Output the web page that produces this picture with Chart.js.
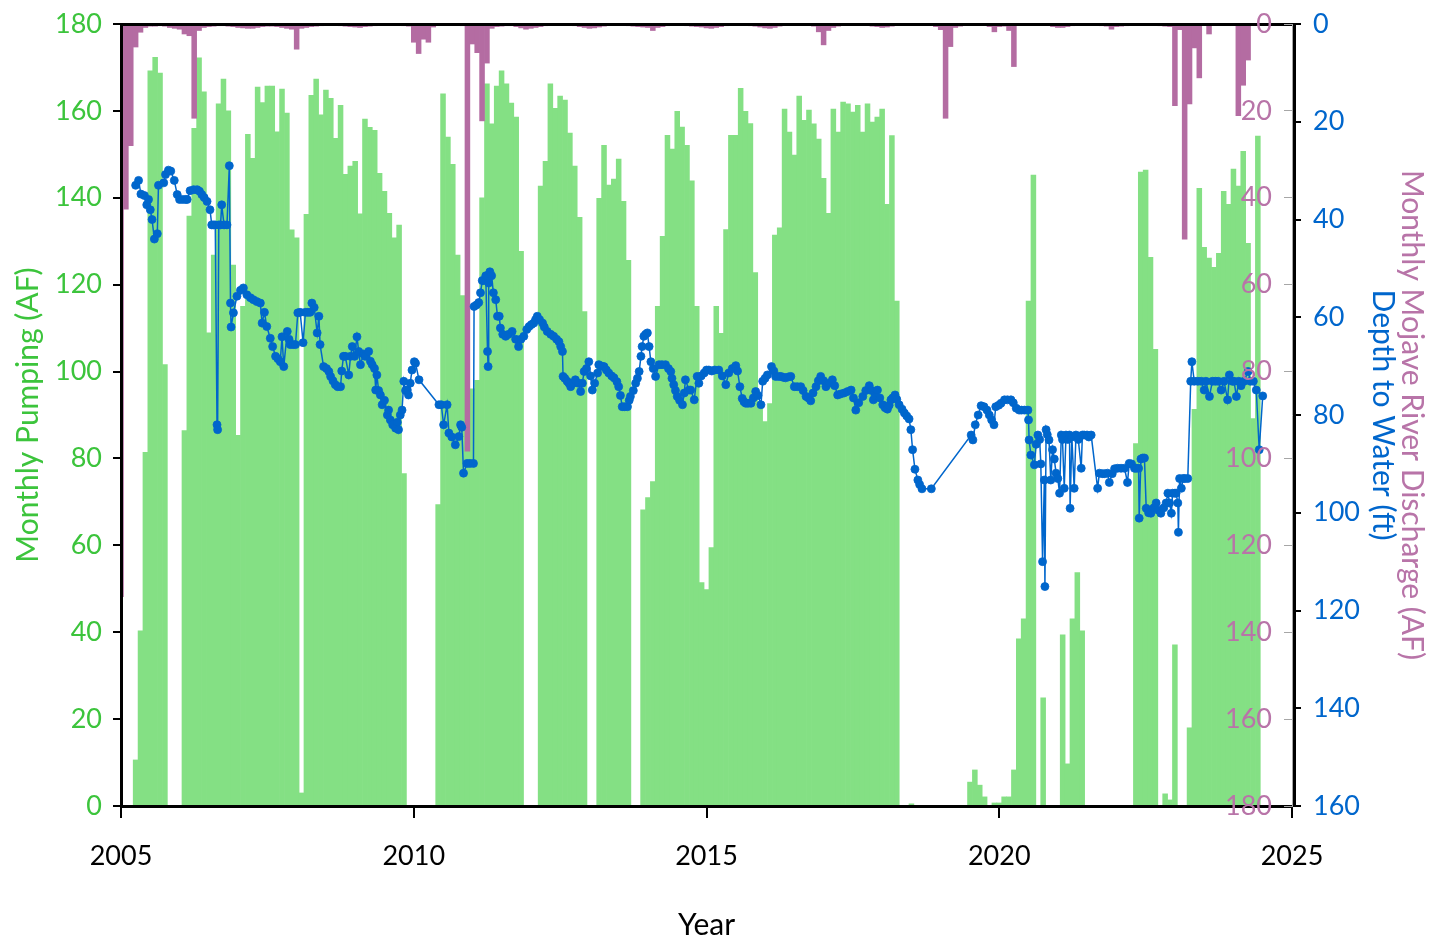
<!DOCTYPE html>
<html>
<head>
<meta charset="utf-8">
<title>Pumping, discharge and depth to water</title>
<script src="https://cdn.jsdelivr.net/npm/chart.js@4.4.1/dist/chart.umd.min.js"></script>
<style>
  html, body { margin: 0; padding: 0; background: #fff; }
  canvas { display: block; }
</style>
</head>
<body>
<canvas id="chart" width="1438" height="944"></canvas>
<script>
// colours and font
const FONT = 'Lato';
const GREEN_TEXT = '#3cc43c';
const GREEN_FILL = 'rgb(132, 224, 132)';
const PURPLE_FILL = 'rgb(180, 108, 162)';
const PURPLE_TEXT = 'rgb(184, 116, 168)';
const BLUE = '#0066cc';

// monthly pumping (AF), Jan 2005 .. May 2024
const pumpingAF = [
  0, 0, 10.6, 40.3, 81.4, 169.2, 172.3, 168.7, 101.6, 0, 0, 0,                  // 2005
  86.4, 135.8, 156.0, 172.2, 164.4, 108.9, 126.8, 161.6, 167.3, 160.0, 124.5, 85.3, // 2006
  115, 154.6, 149.1, 165.5, 161.9, 165.7, 165.7, 155.2, 165.0, 159.5, 132.6, 130.8, // 2007
  3, 136.2, 163.6, 167.3, 159.1, 164.8, 162.9, 153.7, 161.3, 145.4, 147.3, 148.4,   // 2008
  136.3, 158.1, 156.2, 155.5, 145.6, 141.5, 136.4, 130.8, 133.7, 76.5, 0, 0,        // 2009
  0, 0, 0, 0, 69.4, 163.9, 154.0, 147.7, 126.8, 117.5, 88, 96,                      // 2010
  98, 140.0, 166.2, 157.0, 165.7, 169.2, 166.2, 161.8, 158.6, 127.7, 0, 0,          // 2011
  0, 142.7, 148.4, 166.2, 160.6, 163.4, 162.5, 154.9, 147.3, 135.5, 113.8, 0,       // 2012
  0, 139.9, 152.1, 142.9, 144.3, 148.9, 139.2, 125.6, 0, 0, 68.2, 71.0,             // 2013
  74.7, 115, 131.1, 154.4, 151.2, 159.9, 156.3, 152.1, 143.9, 115, 51.4, 49.8,      // 2014
  59.5, 115, 108.8, 132.7, 154.4, 154.4, 165.2, 159.9, 157.1, 122.8, 92, 88.5,      // 2015
  92.6, 131.4, 133.1, 160.4, 155.1, 149.8, 163.4, 157.8, 160.2, 157.0, 153.5, 144.5, // 2016
  136.4, 160.4, 155.1, 162.0, 161.6, 159.7, 161.3, 155.1, 161.6, 157.4, 158.6, 160.4, // 2017
  138.5, 154.3, 116.2, 0, 0, 0.5, 0, 0, 0, 0, 0, 0,                                // 2018
  0, 0, 0, 0, 0, 5.5, 8.3, 4.8, 2.1, 0, 0.7, 0.7,                                   // 2019
  2.1, 2.1, 8.3, 38.5, 43.1, 116.2, 145.2, 0, 24.9, 0, 0, 0,                        // 2020
  39.4, 9.7, 43.1, 53.7, 40.3, 0, 0, 0, 0, 0, 0, 0,                                 // 2021
  0, 0, 0, 83.4, 145.9, 146.4, 126.3, 105.1, 0, 2.8, 1.4, 37.1,                     // 2022
  0, 0, 18.0, 91.3, 142.2, 128.6, 126.1, 124.0, 127.2, 141.5, 138.5, 146.6,         // 2023
  142.7, 150.7, 129.5, 89.2, 154.2                                                  // 2024
];

// monthly Mojave River discharge (AF), Dec 2004 .. May 2024
const dischargeAF = [
  131.8,                                                          // Dec 2004
  42.6, 28, 5.3, 1.9, 0.8, 0.5, 0.5, 0.4, 0.5, 0.8, 1.0, 1.2,    // 2005
  2.3, 2.7, 21.7, 1.5, 0.8, 0.6, 0.5, 0.4, 0.4, 0.5, 0.6, 0.8,   // 2006
  0.9, 1.0, 1.0, 0.8, 0.6, 0.5, 0.5, 0.6, 0.8, 1.0, 1.2, 5.8,    // 2007
  1.0, 0.8, 0.6, 0.5, 0.4, 0.3, 0.3, 0.3, 0.4, 0.5, 0.6, 0.7,    // 2008
  0.8, 0.6, 0.5, 0.4, 0.3, 0.3, 0.3, 0.3, 0.3, 0.4, 0.5, 4.2,    // 2009
  6.8, 3.5, 4.2, 0.7, 0.3, 0.2, 0.2, 0.2, 0.3, 0.4, 98.3, 4.6,   // 2010
  6.6, 22.3, 9.0, 1.0, 0.6, 0.5, 0.4, 0.4, 0.6, 0.9, 1.2, 1.0,   // 2011
  0.8, 0.6, 0.4, 0.3, 0.2, 0.2, 0.2, 0.3, 0.4, 0.6, 0.8, 1.0,    // 2012
  0.9, 0.7, 0.5, 0.3, 0.2, 0.2, 0.3, 0.4, 0.5, 0.6, 0.7, 0.8,    // 2013
  1.5, 0.8, 0.6, 0.4, 0.3, 0.3, 0.3, 0.4, 0.5, 0.6, 0.7, 0.9,    // 2014
  1.0, 0.8, 0.6, 0.4, 0.3, 0.3, 0.3, 0.3, 0.4, 0.5, 0.7, 0.9,    // 2015
  1.0, 0.8, 0.5, 0.3, 0.2, 0.2, 0.2, 0.2, 0.3, 0.5, 1.8, 4.8,    // 2016
  1.5, 0.8, 0.5, 0.3, 0.2, 0.2, 0.1, 0.1, 0.2, 0.5, 0.6, 0.8,    // 2017
  0.7, 0.5, 0.3, 0.2, 0.1, 0.1, 0.1, 0.1, 0.2, 0.3, 0.6, 1.3,    // 2018
  21.7, 5.2, 0.8, 0.5, 0.3, 0.2, 0.2, 0.2, 0.3, 0.6, 1.8, 0.6,   // 2019
  0.5, 1.5, 9.8, 0.3, 0.2, 0.1, 0.1, 0.1, 0.2, 0.3, 0.6, 0.8,    // 2020
  0.8, 0.6, 0.4, 0.3, 0.2, 0.2, 0.2, 0.3, 0.4, 0.5, 1.2, 0.6,    // 2021
  0.5, 0.4, 0.3, 0.2, 0.2, 0.2, 0.2, 0.3, 0.4, 0.5, 0.6, 18.8,   // 2022
  1.3, 49.5, 18.4, 5.5, 12.4, 0.2, 2.3, 0.3, 0.3, 0.3, 0.3, 0.3, // 2023
  21.1, 14.1, 8.3, 0, 0                                           // 2024
];

// depth to water readings: [decimal year, ft below surface]
const depthReadings = [
  [2005.25, 33.0], [2005.30, 32.0], [2005.34, 34.8], [2005.40, 35.1], [2005.44, 37], [2005.47, 35.9],
  [2005.50, 38], [2005.53, 40], [2005.57, 44], [2005.62, 42.9], [2005.64, 33], [2005.73, 32.5],
  [2005.76, 30.8], [2005.81, 29.9], [2005.85, 30.1], [2005.91, 32], [2005.96, 34.9], [2006.00, 35.9],
  [2006.05, 35.9], [2006.10, 35.9], [2006.13, 35.9], [2006.18, 34.1], [2006.24, 33.9], [2006.30, 33.9],
  [2006.34, 34.2], [2006.38, 34.9], [2006.42, 35.5], [2006.47, 36.3], [2006.52, 38], [2006.55, 41.1],
  [2006.58, 41.1], [2006.61, 41.1], [2006.64, 82], [2006.65, 83], [2006.67, 41.1], [2006.70, 41.1],
  [2006.72, 37], [2006.76, 41.1], [2006.81, 41.1], [2006.85, 29], [2006.87, 57.1], [2006.88, 62],
  [2006.92, 59.1], [2006.98, 55.7], [2007.04, 54.5], [2007.09, 54], [2007.15, 55.4], [2007.21, 56],
  [2007.26, 56.4], [2007.32, 56.8], [2007.38, 57.1], [2007.41, 61.2], [2007.45, 59], [2007.49, 61.9],
  [2007.55, 64.3], [2007.59, 66], [2007.64, 68], [2007.68, 68.5], [2007.72, 69.1], [2007.75, 64],
  [2007.78, 70.1], [2007.84, 62.9], [2007.87, 64.5], [2007.89, 65.6], [2007.94, 65.6], [2007.98, 65.6],
  [2008.02, 59.1], [2008.06, 59], [2008.11, 65.2], [2008.15, 59], [2008.19, 59], [2008.23, 59],
  [2008.26, 57.1], [2008.30, 58], [2008.35, 63.2], [2008.38, 59.8], [2008.40, 65.6], [2008.46, 70.1],
  [2008.51, 70.5], [2008.55, 71.1], [2008.58, 72.1], [2008.62, 73], [2008.66, 73.8], [2008.70, 74.2],
  [2008.75, 74.2], [2008.77, 71], [2008.80, 68], [2008.83, 68], [2008.89, 71.8], [2008.92, 68],
  [2008.95, 66], [2008.99, 68], [2009.03, 64], [2009.06, 67], [2009.09, 69.7], [2009.14, 67.5],
  [2009.17, 68], [2009.23, 67], [2009.26, 69], [2009.29, 69.7], [2009.33, 70.5], [2009.35, 74.9],
  [2009.37, 71.8], [2009.40, 75], [2009.43, 75.9], [2009.46, 77.9], [2009.50, 77], [2009.55, 80],
  [2009.57, 79], [2009.60, 81], [2009.64, 82], [2009.69, 82.7], [2009.72, 81.5], [2009.74, 83],
  [2009.77, 80], [2009.80, 79], [2009.83, 73.1], [2009.86, 75], [2009.89, 74.9], [2009.91, 75.9],
  [2009.94, 73.5], [2009.97, 70.8], [2010.01, 69.1], [2010.03, 69.4], [2010.09, 72.8], [2010.43, 77.9],
  [2010.47, 77.9], [2010.51, 82], [2010.57, 77.9], [2010.60, 83.7], [2010.65, 84.5], [2010.71, 86.1],
  [2010.77, 84.4], [2010.80, 82], [2010.82, 82.5], [2010.85, 91.9], [2010.91, 89.9], [2010.96, 89.9],
  [2011.02, 89.9], [2011.03, 57.8], [2011.07, 57.5], [2011.11, 57], [2011.14, 55], [2011.17, 52.5],
  [2011.19, 52.5], [2011.23, 51.5], [2011.26, 67], [2011.27, 70.1], [2011.28, 53], [2011.30, 50.7],
  [2011.33, 51.5], [2011.36, 55], [2011.40, 56.4], [2011.43, 59.8], [2011.46, 59.8], [2011.48, 62.2],
  [2011.52, 63.5], [2011.57, 63.9], [2011.62, 63.5], [2011.68, 62.9], [2011.74, 64.5], [2011.79, 66],
  [2011.83, 64.5], [2011.88, 63.9], [2011.93, 62.5], [2011.97, 61.9], [2012.01, 61.5], [2012.05, 61.2],
  [2012.08, 60.5], [2012.11, 59.8], [2012.15, 60.5], [2012.20, 61.2], [2012.23, 62], [2012.28, 62.9],
  [2012.34, 63.5], [2012.39, 63.9], [2012.44, 64.5], [2012.48, 65], [2012.51, 66], [2012.54, 67],
  [2012.55, 72.1], [2012.58, 72.5], [2012.62, 73.1], [2012.65, 73.5], [2012.68, 74.2], [2012.72, 73.5],
  [2012.76, 72.8], [2012.81, 73.5], [2012.85, 75.2], [2012.88, 73.5], [2012.91, 71.1], [2012.95, 70.5],
  [2012.99, 69.1], [2013.02, 72], [2013.05, 74.9], [2013.09, 73.5], [2013.14, 71.4], [2013.16, 69.7],
  [2013.21, 70], [2013.25, 70.1], [2013.29, 70.8], [2013.33, 71.4], [2013.38, 72], [2013.42, 72.4],
  [2013.47, 73.2], [2013.50, 74.2], [2013.53, 76], [2013.56, 78.3], [2013.60, 78.3], [2013.65, 78.3],
  [2013.68, 77], [2013.70, 76.2], [2013.75, 75], [2013.79, 73.5], [2013.82, 72.5], [2013.85, 71.1],
  [2013.88, 68], [2013.90, 66], [2013.93, 63.9], [2013.96, 63.5], [2013.99, 63.2], [2014.02, 66],
  [2014.05, 69.1], [2014.09, 70.5], [2014.13, 72.1], [2014.19, 69.7], [2014.24, 69.7], [2014.30, 69.7],
  [2014.35, 70.5], [2014.39, 71.1], [2014.41, 72.5], [2014.44, 73.8], [2014.47, 75], [2014.50, 76.2],
  [2014.54, 77], [2014.59, 77.9], [2014.62, 75.5], [2014.64, 72.8], [2014.70, 74.9], [2014.73, 74.9],
  [2014.79, 76.9], [2014.84, 72.1], [2014.87, 73.5], [2014.91, 72], [2014.96, 71.4], [2015.00, 70.8],
  [2015.04, 70.8], [2015.09, 71], [2015.14, 70.8], [2015.21, 70.8], [2015.27, 72], [2015.33, 73.8],
  [2015.38, 71.4], [2015.44, 70.5], [2015.50, 69.9], [2015.53, 71], [2015.57, 74.2], [2015.61, 76.6],
  [2015.64, 77.3], [2015.67, 77.6], [2015.71, 77.6], [2015.76, 77.6], [2015.80, 76.5], [2015.84, 75.2],
  [2015.88, 76], [2015.93, 77.9], [2015.96, 73.1], [2016.00, 72.5], [2016.04, 71.8], [2016.11, 70.1],
  [2016.15, 71], [2016.18, 72.1], [2016.23, 72.1], [2016.27, 72.1], [2016.31, 72.3], [2016.35, 72.4],
  [2016.40, 72.2], [2016.44, 72.1], [2016.50, 74.2], [2016.55, 74.2], [2016.61, 74.2], [2016.65, 75],
  [2016.70, 76.2], [2016.74, 76.5], [2016.78, 77.1], [2016.82, 75.5], [2016.87, 74.2], [2016.91, 73],
  [2016.95, 72.1], [2017.00, 73], [2017.04, 74.2], [2017.10, 73.5], [2017.15, 72.8], [2017.19, 74],
  [2017.24, 75.9], [2017.29, 75.7], [2017.35, 75.5], [2017.41, 75.2], [2017.47, 74.9], [2017.51, 76.5],
  [2017.55, 79], [2017.60, 77.5], [2017.67, 76.2], [2017.72, 75], [2017.78, 74], [2017.82, 75],
  [2017.85, 76.9], [2017.88, 76], [2017.92, 74.9], [2017.96, 76.5], [2018.01, 77.9], [2018.05, 78.5],
  [2018.09, 78.8], [2018.12, 78], [2018.15, 76.9], [2018.18, 76.5], [2018.22, 75.9], [2018.25, 76.8],
  [2018.29, 77.9], [2018.34, 78.8], [2018.38, 79.6], [2018.42, 80.2], [2018.46, 80.8], [2018.49, 83],
  [2018.52, 87.1], [2018.56, 91.1], [2018.61, 93.3], [2018.64, 94.2], [2018.68, 95.1], [2018.84, 95.1],
  [2019.52, 84.1], [2019.55, 85.1], [2019.59, 82], [2019.64, 80], [2019.69, 78.1], [2019.74, 78.3],
  [2019.79, 79], [2019.83, 80], [2019.87, 81], [2019.91, 82], [2019.94, 78.3], [2019.99, 78],
  [2020.03, 77.6], [2020.09, 76.9], [2020.14, 76.9], [2020.20, 76.9], [2020.24, 77.5], [2020.29, 78.6],
  [2020.34, 79], [2020.38, 79], [2020.43, 79], [2020.49, 79], [2020.50, 81], [2020.51, 85.1],
  [2020.54, 88.2], [2020.60, 90.2], [2020.63, 86], [2020.66, 84.1], [2020.69, 85], [2020.71, 90],
  [2020.74, 110], [2020.77, 93.3], [2020.78, 115.1], [2020.80, 83], [2020.82, 84], [2020.85, 85.1],
  [2020.88, 93.3], [2020.91, 87.1], [2020.94, 89], [2020.97, 91.9], [2021.00, 93], [2021.03, 96],
  [2021.06, 84.1], [2021.08, 85], [2021.11, 95], [2021.14, 84.1], [2021.17, 85], [2021.20, 84.1],
  [2021.21, 99.1], [2021.24, 84.5], [2021.28, 95], [2021.31, 84.1], [2021.35, 85], [2021.40, 90.9],
  [2021.42, 84.1], [2021.45, 84.1], [2021.50, 84.1], [2021.53, 84.5], [2021.57, 84.1], [2021.68, 95],
  [2021.71, 91.9], [2021.76, 92], [2021.80, 92], [2021.85, 91.9], [2021.88, 93.8], [2021.93, 92],
  [2021.97, 91], [2022.02, 90.9], [2022.08, 90.9], [2022.14, 90.9], [2022.19, 93.8], [2022.22, 89.9],
  [2022.26, 90], [2022.31, 90.9], [2022.34, 90.9], [2022.38, 90.9], [2022.39, 101.1], [2022.42, 89],
  [2022.45, 88.8], [2022.48, 88.8], [2022.51, 99.1], [2022.55, 100], [2022.59, 100.1], [2022.64, 99],
  [2022.68, 98], [2022.72, 99.5], [2022.76, 100.1], [2022.81, 99], [2022.85, 98], [2022.88, 96],
  [2022.91, 98], [2022.94, 100.1], [2022.96, 96], [2023.00, 96], [2023.02, 96], [2023.05, 98],
  [2023.06, 104], [2023.08, 93], [2023.11, 95], [2023.14, 93], [2023.17, 93], [2023.22, 93],
  [2023.27, 73.1], [2023.29, 69.1], [2023.33, 73.1], [2023.39, 73.1], [2023.45, 73.1], [2023.50, 74.9],
  [2023.53, 73.1], [2023.59, 76.2], [2023.64, 73.1], [2023.69, 73.1], [2023.74, 73.1], [2023.79, 74.9],
  [2023.84, 73.1], [2023.90, 76.9], [2023.93, 71.8], [2023.98, 73.1], [2024.01, 73.1], [2024.05, 76.2],
  [2024.09, 73.1], [2024.13, 74], [2024.18, 73.1], [2024.25, 71.1], [2024.29, 73.1], [2024.34, 73.1],
  [2024.39, 74.9], [2024.44, 87.1], [2024.50, 76.1]
];

// month bars sit at the end of each month on the year axis
const pumpPoints = pumpingAF.map((v, i) => ({ x: 2005 + (i + 1) / 12, y: v }));
const dischargePoints = dischargeAF.map((v, i) => ({ x: 2005 + i / 12, y: v }));
const depthPoints = depthReadings.map(([t, d]) => ({ x: t, y: d }));

Chart.defaults.font.family = FONT;
const tickFont = { family: FONT, size: 27 };
const titleFont = { family: FONT, size: 30 };

// fixed axis sizes so the plot box lands in the same place every time
const fixWidth = (w) => (s) => { s.width = w; s.paddingTop = 0; s.paddingBottom = 0; };
const fixHeight = (h) => (s) => { s.height = h; s.paddingLeft = 0; s.paddingRight = 0; };

new Chart(document.getElementById('chart'), {
  type: 'bar',
  data: {
    datasets: [
      {
        type: 'line',
        label: 'Depth to Water (ft)',
        data: depthPoints,
        xAxisID: 'x',
        yAxisID: 'yDepth',
        borderColor: BLUE,
        backgroundColor: BLUE,
        borderWidth: 1.5,
        pointRadius: 4,
        pointBorderWidth: 0.8,
        pointBackgroundColor: BLUE,
        pointBorderColor: BLUE,
        tension: 0,
        order: 1
      },
      {
        type: 'bar',
        label: 'Monthly Mojave River Discharge (AF)',
        data: dischargePoints,
        xAxisID: 'x',
        yAxisID: 'yDis',
        backgroundColor: PURPLE_FILL,
        borderWidth: 0,
        grouped: false,
        barPercentage: 1,
        categoryPercentage: 1,
        clip: 0,
        order: 2
      },
      {
        type: 'bar',
        label: 'Monthly Pumping (AF)',
        data: pumpPoints,
        xAxisID: 'x',
        yAxisID: 'yPump',
        backgroundColor: GREEN_FILL,
        borderWidth: 0,
        grouped: false,
        barPercentage: 1,
        categoryPercentage: 1,
        clip: 0,
        order: 3
      }
    ]
  },
  options: {
    responsive: false,
    animation: false,
    devicePixelRatio: 1,
    layout: { padding: 0 },
    plugins: {
      legend: { display: false },
      tooltip: { enabled: false }
    },
    scales: {
      x: {
        type: 'linear',
        position: 'bottom',
        min: 2005,
        max: 2025,
        offset: false,
        ticks: {
          stepSize: 5,
          autoSkip: false,
          maxRotation: 0,
          color: '#000',
          font: tickFont,
          padding: 22,
          z: 1,
          callback: (v) => String(v)
        },
        grid: { offset: false, drawOnChartArea: false, tickLength: 12, color: '#000', lineWidth: 2, z: 1 },
        border: { color: '#000', width: 3, z: 1 },
        title: { display: true, text: 'Year', color: '#000', font: titleFont, padding: { top: 0, bottom: 1 } },
        afterFit: fixHeight(138)
      },
      xTop: {
        type: 'linear',
        position: 'top',
        min: 2005,
        max: 2025,
        ticks: { display: false },
        grid: { display: false, drawTicks: false },
        border: { color: '#000', width: 3, z: 1 },
        afterFit: fixHeight(24)
      },
      yPump: {
        type: 'linear',
        position: 'left',
        min: 0,
        max: 180,
        ticks: { stepSize: 20, color: GREEN_TEXT, font: tickFont, padding: 11, z: 1 },
        grid: { drawOnChartArea: false, tickLength: 8, color: '#000', lineWidth: 2, z: 1 },
        border: { color: '#000', width: 3, z: 1 },
        title: { display: true, text: 'Monthly Pumping (AF)', color: GREEN_TEXT, font: titleFont, padding: { top: 10, bottom: 0 } },
        afterFit: fixWidth(121)
      },
      yDis: {
        type: 'linear',
        position: 'right',
        weight: 1,
        reverse: true,
        min: 0,
        max: 180,
        ticks: { stepSize: 20, mirror: true, padding: -20, color: PURPLE_TEXT, font: tickFont, z: 1 },
        grid: { drawOnChartArea: false, tickLength: -8, color: '#a6a6a6', lineWidth: 1, z: 1 },
        border: { color: '#a6a6a6', width: 1, z: 1 },
        afterFit: fixWidth(2)
      },
      yDepth: {
        type: 'linear',
        position: 'right',
        weight: 2,
        reverse: true,
        min: 0,
        max: 160,
        ticks: { stepSize: 20, color: BLUE, font: tickFont, padding: 12, z: 1 },
        grid: { drawOnChartArea: false, tickLength: 7, color: '#000', lineWidth: 2, z: 1 },
        border: { color: '#000', width: 3, z: 1 },
        title: { display: true, text: 'Depth to Water (ft)', color: BLUE, font: titleFont, padding: { top: 0, bottom: 0 } },
        afterFit: fixWidth(107)
      },
      yTitle: {
        type: 'linear',
        position: 'right',
        weight: 3,
        min: 0,
        max: 1,
        ticks: { display: false },
        grid: { display: false, drawTicks: false },
        border: { display: false },
        title: { display: true, text: 'Monthly Mojave River Discharge (AF)', color: PURPLE_TEXT, font: titleFont, padding: { top: 8, bottom: 0 } },
        afterFit: fixWidth(37)
      }
    }
  }
});
</script>
</body>
</html>
